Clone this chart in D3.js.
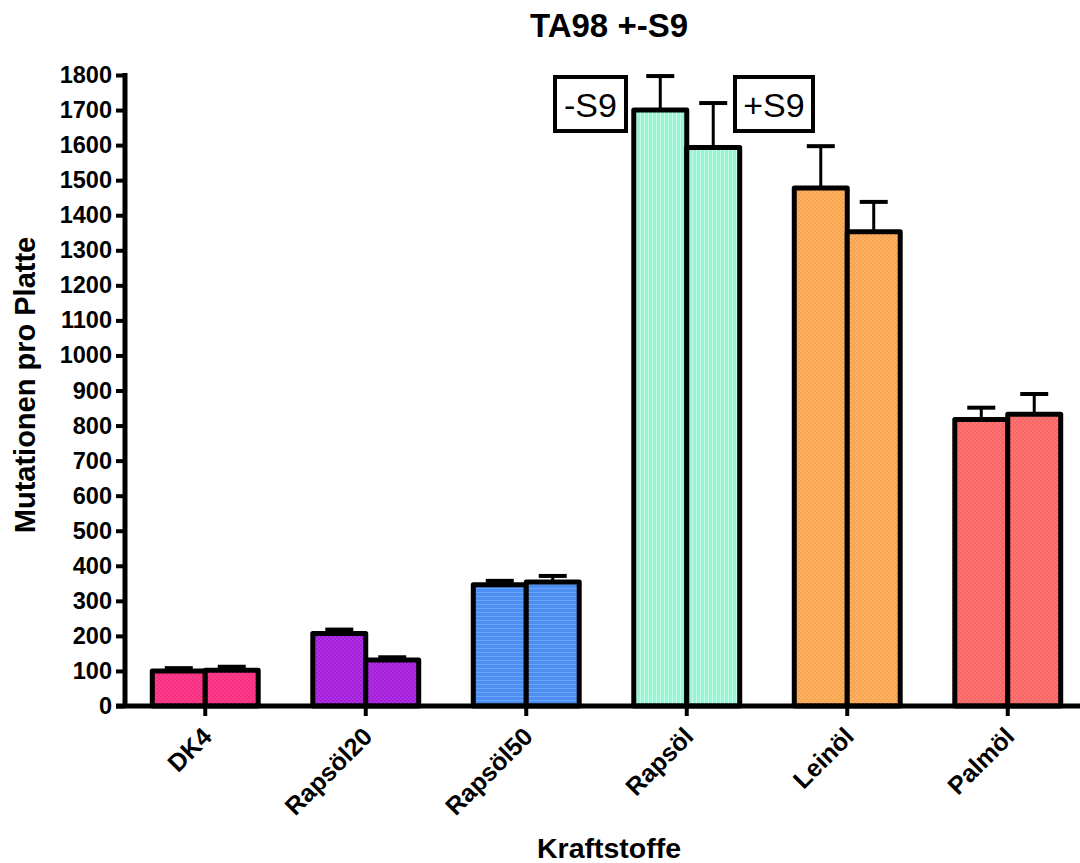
<!DOCTYPE html>
<html>
<head>
<meta charset="utf-8">
<script src="https://cdn.jsdelivr.net/npm/d3@7"></script>
<style>
  body { margin: 0; background: #fff; }
  text { font-family: "Liberation Sans", Arial, sans-serif; }
</style>
</head>
<body>
<div id="container"></div>
<script>
// data
const categories = ["DK4", "Rapsöl20", "Rapsöl50", "Rapsöl", "Leinöl", "Palmöl"];
const series = ["-S9", "+S9"];
const meanMinus = [100, 207, 346, 1700, 1478, 817];
const meanPlus = [102, 131, 354, 1593, 1353, 832];
const errMinus = [8, 11, 11, 97, 119, 34];
const errPlus = [10, 8, 17, 127, 85, 58];
const colors = ["#ff3c8c", "#b42ee6", "#4d8ff0", "#97f5d3", "#ffb061", "#ff7272"];
const shades = ["#f2307f", "#a020d8", "#6aa6ff", "#c4fae6", "#f5a450", "#f56666"];
const yTicks = d3.range(0, 1801, 100);

const width = 1080,
  height = 863;

const svg = d3
  .select("#container")
  .append("svg")
  .attr("width", width)
  .attr("height", height);

//fill patterns
const defs = svg.append("defs");
categories.forEach((c, i) => {
  const p = defs
    .append("pattern")
    .attr("id", "pat" + i)
    .attr("patternUnits", "userSpaceOnUse")
    .attr("width", 4)
    .attr("height", 4);
  p.append("rect").attr("width", 4).attr("height", 4).attr("fill", colors[i]);
  if (i === 2) {
    p.append("rect").attr("width", 4).attr("height", 1).attr("fill", shades[i]);
  } else if (i === 3) {
    p.append("rect").attr("width", 1).attr("height", 4).attr("fill", shades[i]);
  } else {
    p.append("rect").attr("width", 2).attr("height", 2).attr("fill", shades[i]);
    p.append("rect").attr("x", 2).attr("y", 2).attr("width", 2).attr("height", 2).attr("fill", shades[i]);
  }
});

const y = d3.scaleLinear().domain([0, 1800]).range([706, 75]);
const x = d3
  .scaleBand()
  .domain(categories)
  .range([125, 1088])
  .paddingInner(0.34)
  .paddingOuter(0.17);
const x1 = d3.scaleBand().domain(series).range([0, x.bandwidth()]);

const rows = [];
categories.forEach((c, i) => {
  rows.push({ cat: c, s: "-S9", v: meanMinus[i], e: errMinus[i], ci: i });
  rows.push({ cat: c, s: "+S9", v: meanPlus[i], e: errPlus[i], ci: i });
});

//error bars (upper only)
const err = svg.append("g").selectAll("g").data(rows).enter().append("g");
err
  .append("line")
  .attr("x1", (d) => x(d.cat) + x1(d.s) + x1.bandwidth() / 2)
  .attr("x2", (d) => x(d.cat) + x1(d.s) + x1.bandwidth() / 2)
  .attr("y1", (d) => y(d.v))
  .attr("y2", (d) => y(d.v + d.e))
  .attr("stroke", "#000")
  .attr("stroke-width", 3);
err
  .append("line")
  .attr("x1", (d) => x(d.cat) + x1(d.s) + x1.bandwidth() / 2 - 14)
  .attr("x2", (d) => x(d.cat) + x1(d.s) + x1.bandwidth() / 2 + 14)
  .attr("y1", (d) => y(d.v + d.e))
  .attr("y2", (d) => y(d.v + d.e))
  .attr("stroke", "#000")
  .attr("stroke-width", 4);

//bars
svg
  .append("g")
  .selectAll("rect")
  .data(rows)
  .enter()
  .append("rect")
  .attr("x", (d) => x(d.cat) + x1(d.s))
  .attr("y", (d) => y(d.v))
  .attr("width", x1.bandwidth())
  .attr("height", (d) => y(0) - y(d.v))
  .attr("fill", (d) => "url(#pat" + d.ci + ")")
  .attr("stroke", "#000")
  .attr("stroke-width", 5)
  .attr("stroke-linejoin", "round");

//y axis
const yAxis = svg
  .append("g")
  .attr("transform", "translate(125,0)")
  .call(d3.axisLeft(y).tickValues(yTicks).tickSize(9).tickPadding(4).tickFormat(d3.format("d")));
yAxis.select(".domain").attr("stroke-width", 5).attr("d", "M0,73V708");
yAxis.selectAll(".tick line").attr("stroke-width", 4);
yAxis
  .selectAll(".tick text")
  .attr("font-size", 23.5)
  .attr("font-weight", "bold")
  .attr("fill", "#000");

//x axis
const xAxis = svg
  .append("g")
  .attr("transform", "translate(0,706)")
  .call(d3.axisBottom(x).tickSize(10).tickSizeOuter(0));
xAxis.select(".domain").attr("stroke-width", 5).attr("d", "M116,0H1080");
xAxis.selectAll(".tick line").attr("stroke-width", 4);
xAxis
  .selectAll(".tick text")
  .attr("font-size", 25)
  .attr("font-weight", "bold")
  .attr("fill", "#000")
  .attr("text-anchor", "end")
  .attr("dy", 0)
  .attr("transform", "translate(-1,23) rotate(-45)");

//titles
svg
  .append("text")
  .attr("x", 609)
  .attr("y", 37)
  .attr("text-anchor", "middle")
  .attr("font-size", 33)
  .attr("font-weight", "bold")
  .text("TA98 +-S9");

svg
  .append("text")
  .attr("x", 609)
  .attr("y", 858)
  .attr("text-anchor", "middle")
  .attr("font-size", 28.5)
  .attr("font-weight", "bold")
  .text("Kraftstoffe");

svg
  .append("text")
  .attr("transform", "translate(35,385) rotate(-90)")
  .attr("text-anchor", "middle")
  .attr("font-size", 29)
  .attr("font-weight", "bold")
  .text("Mutationen pro Platte");

//series labels in boxes
const boxes = [
  { label: series[0], x: 555, w: 71 },
  { label: series[1], x: 735, w: 78 },
];
const box = svg.selectAll(".box").data(boxes).enter().append("g");
box
  .append("rect")
  .attr("x", (d) => d.x)
  .attr("y", 77)
  .attr("width", (d) => d.w)
  .attr("height", 54)
  .attr("fill", "#fff")
  .attr("stroke", "#000")
  .attr("stroke-width", 4);
box
  .append("text")
  .attr("x", (d) => d.x + d.w / 2)
  .attr("y", 117)
  .attr("text-anchor", "middle")
  .attr("font-size", 34)
  .text((d) => d.label);
</script>
</body>
</html>
